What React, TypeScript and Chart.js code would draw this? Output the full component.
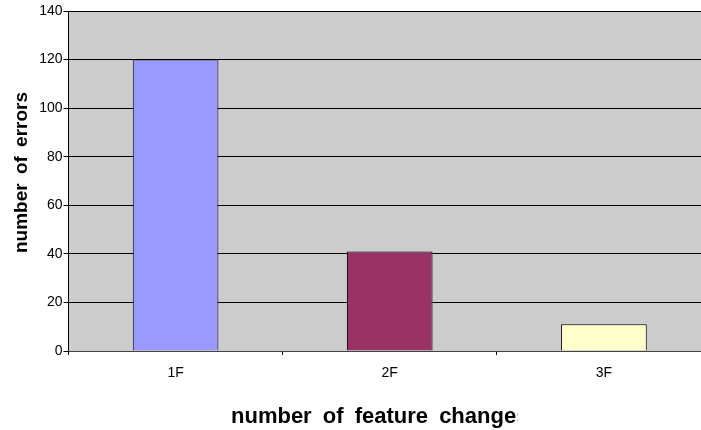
import React, { useEffect, useRef } from "react";
import { Chart, registerables } from "chart.js";

Chart.register(...registerables);

const categories = ["1F", "2F", "3F"];
const errorCounts = [120, 41, 11];
const barColors = ["#9999FF", "#993366", "#FFFFCC"];
const yTickMax = 140;
const yTickStep = 20;
const xTitle = "number of feature changes";
const yTitle = "number of errors";

const plotBackground = {
  id: "plotBackground",
  beforeDraw(chart: any) {
    const { ctx, chartArea } = chart;
    ctx.save();
    ctx.fillStyle = "#CCCCCC";
    ctx.fillRect(chartArea.left, chartArea.top, chartArea.right - chartArea.left, chartArea.bottom - chartArea.top);
    ctx.restore();
  },
};

const axisTitles = {
  id: "axisTitles",
  afterDraw(chart: any) {
    const { ctx, chartArea } = chart;
    // y title
    ctx.save();
    ctx.fillStyle = "#000";
    ctx.font = 'bold 19px "Liberation Sans", Arial, sans-serif';
    try { (ctx as any).wordSpacing = "4px"; } catch (e) {}
    ctx.textAlign = "center";
    ctx.textBaseline = "alphabetic";
    ctx.translate(chartArea.left - 41.5, (chartArea.top + chartArea.bottom) / 2 - 8.5);
    ctx.rotate(-Math.PI / 2);
    ctx.fillText(yTitle, 0, 0);
    ctx.restore();
    // x title
    ctx.save();
    ctx.beginPath();
    ctx.rect(0, chartArea.bottom + 40, chartArea.left + 449, 40);
    ctx.clip();
    ctx.fillStyle = "#000";
    ctx.font = 'bold 22px "Liberation Sans", Arial, sans-serif';
    try { (ctx as any).wordSpacing = "5px"; } catch (e) {}
    ctx.textAlign = "left";
    ctx.textBaseline = "alphabetic";
    ctx.fillText(xTitle, chartArea.left + 162.5, chartArea.bottom + 72);
    ctx.restore();
  },
};

export default function App() {
  const ref = useRef<HTMLCanvasElement>(null);
  useEffect(() => {
    if (!ref.current) return;
    const chart = new Chart(ref.current, {
      type: "bar",
      data: {
        labels: categories,
        datasets: [
          {
            data: errorCounts,
            backgroundColor: barColors,
            borderColor: "#000",
            borderWidth: 1,
            categoryPercentage: 1,
            barPercentage: 0.4,
          },
        ],
      },
      options: {
        animation: false,
        responsive: false,
        devicePixelRatio: 1,
        layout: { padding: { top: 11, left: 0, right: 29, bottom: 0 } },
        plugins: { legend: { display: false }, tooltip: { enabled: false }, title: { display: false } },
        scales: {
          x: {
            offset: true,
            grid: { offset: true, drawOnChartArea: false, color: "#000", tickLength: 4 },
            border: { color: "#444", width: 1 },
            ticks: { color: "#000", font: { family: '"Liberation Sans", Arial, sans-serif', size: 14 }, padding: 10, maxRotation: 0 },
            afterFit(scale: any) { scale.height = 79; },
          },
          y: {
            min: 0,
            max: yTickMax,
            grid: { color: "#000", tickLength: 5, lineWidth: 1 },
            border: { color: "#000", width: 1 },
            ticks: { stepSize: yTickStep, color: "#000", font: { family: '"Liberation Sans", Arial, sans-serif', size: 14 }, padding: 1 },
            afterFit(scale: any) { scale.width = 68.5; },
          },
        },
      },
      plugins: [plotBackground, axisTitles],
    });
    return () => chart.destroy();
  }, []);
  return (
    <div style={{ position: "absolute", left: 0, top: 0, width: 701, height: 430, overflow: "hidden", background: "#fff" }}>
      <canvas ref={ref} width={740} height={430} style={{ width: 740, height: 430, display: "block" }} />
    </div>
  );
}
